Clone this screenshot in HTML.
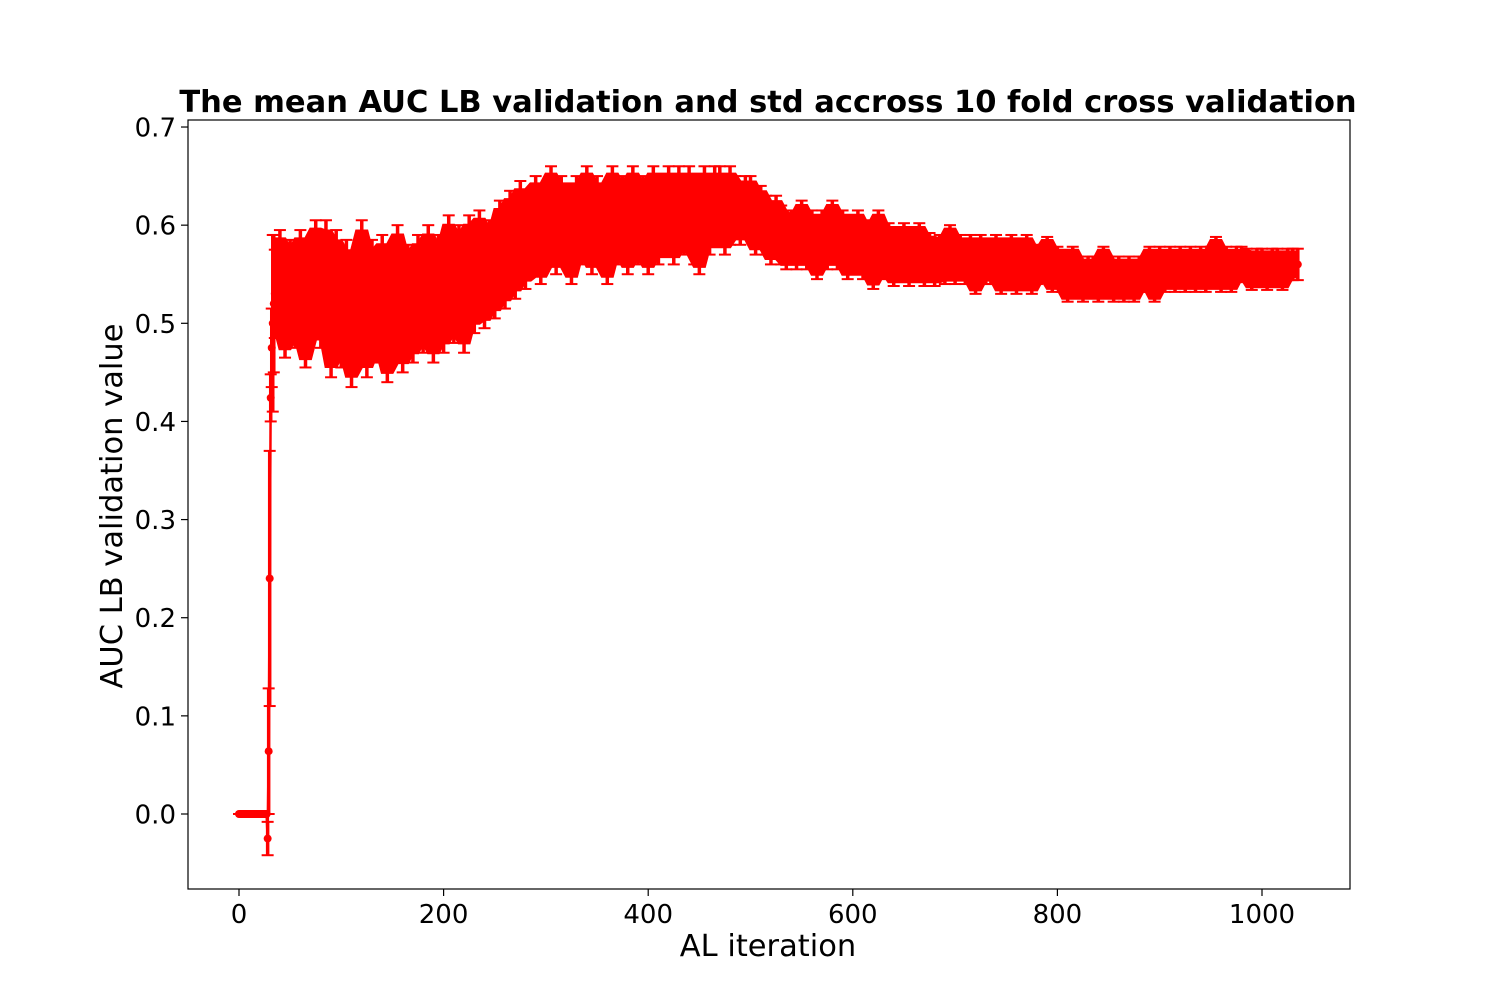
<!DOCTYPE html>
<html><head><meta charset="utf-8"><style>
html,body{margin:0;padding:0;background:#fff;}
svg text{font-family:"DejaVu Sans","Liberation Sans",sans-serif;fill:#000;}
</style></head><body>
<svg id="chart" width="1500" height="1000" xmlns="http://www.w3.org/2000/svg">
<rect width="1500" height="1000" fill="#fff"/>
<text x="768" y="112" font-size="30.5" font-weight="bold" text-anchor="middle">The mean AUC LB validation and std accross 10 fold cross validation</text>
<g id="plot"></g>
<rect x="188" y="120" width="1162" height="769" fill="none" stroke="#000" stroke-width="1.2"/>
<g id="xt"></g>
<g id="yt"></g>
<text x="768" y="956" font-size="30.5" text-anchor="middle">AL iteration</text>
<text transform="translate(122,506) rotate(-90)" font-size="30.5" text-anchor="middle">AUC LB validation value</text>
</svg>
<script>
const xTicks=[0,200,400,600,800,1000];
const yTicks=[0.0,0.1,0.2,0.3,0.4,0.5,0.6,0.7];
const yTickLabels=["0.0","0.1","0.2","0.3","0.4","0.5","0.6","0.7"];
const earlyX=[28,29,30,31,32,33,34];
const earlyMean=[-0.025,0.064,0.24,0.424,0.475,0.50,0.52];
const earlyStd=[0.017,0.064,0.13,0.024,0.04,0.09,0.07];
const zeroCount=28;
const mainStart=35, mainStep=5;
const mainMean=[
0.53,0.55,0.51,0.54,0.52,0.55,0.50,0.54,0.56,0.52,
0.55,0.50,0.54,0.51,0.53,0.49,0.52,0.55,0.50,0.53,
0.51,0.54,0.49,0.52,0.55,0.50,0.53,0.51,0.54,0.52,
0.55,0.51,0.54,0.52,0.56,0.53,0.55,0.52,0.56,0.54,
0.57,0.54,0.56,0.55,0.58,0.56,0.59,0.57,0.60,0.58,
0.59,0.61,0.58,0.60,0.62,0.59,0.61,0.60,0.58,0.61,
0.60,0.62,0.59,0.61,0.60,0.58,0.62,0.60,0.61,0.59,
0.62,0.60,0.61,0.59,0.62,0.60,0.61,0.62,0.60,0.62,
0.61,0.62,0.60,0.59,0.62,0.61,0.62,0.62,0.61,0.62,
0.62,0.61,0.62,0.62,0.60,0.61,0.60,0.59,0.60,0.59,
0.58,0.59,0.58,0.60,0.58,0.59,0.57,0.59,0.58,0.60,
0.58,0.59,0.57,0.58,0.59,0.57,0.58,0.56,0.59,0.57,
0.58,0.56,0.57,0.58,0.56,0.57,0.58,0.56,0.57,0.56,
0.57,0.56,0.58,0.56,0.57,0.56,0.57,0.55,0.57,0.56,
0.56,0.57,0.55,0.56,0.57,0.55,0.56,0.57,0.55,0.56,
0.56,0.57,0.55,0.56,0.55,0.54,0.56,0.55,0.54,0.55,
0.55,0.54,0.56,0.55,0.54,0.55,0.54,0.55,0.54,0.55,
0.55,0.56,0.54,0.56,0.55,0.56,0.55,0.56,0.55,0.56,
0.55,0.56,0.55,0.56,0.57,0.55,0.56,0.55,0.56,0.56,
0.56,0.55,0.56,0.56,0.55,0.56,0.56,0.55,0.56,0.56,
0.56];
const stdByBlock=[0.045,0.055,0.05,0.05,0.045,0.04,0.04,0.04,0.04,0.03,0.025,0.025,0.022,0.02,0.02,0.018,0.018,0.018,0.018,0.016,0.016];

const X0=239,XS=1.023,Y0=814,YS=981.4;
function sx(v){return X0+v*XS;}
function sy(v){return Y0-v*YS;}
const NS="http://www.w3.org/2000/svg";
function mk(t,a,p){const e=document.createElementNS(NS,t);for(const k in a)e.setAttribute(k,a[k]);p.appendChild(e);return e;}
const plot=document.getElementById('plot');
const xs=[],ms=[],ss=[];
for(let i=0;i<zeroCount;i++){xs.push(i);ms.push(0);ss.push(0);}
earlyX.forEach((x,i)=>{xs.push(x);ms.push(earlyMean[i]);ss.push(earlyStd[i]);});
mainMean.forEach((m,i)=>{xs.push(mainStart+i*mainStep);ms.push(m);ss.push(stdByBlock[Math.floor(i/10)]);});
// envelope band: rolling max/min of the error-bar ends over neighbours
const bStart=zeroCount+earlyX.length;
const N=xs.length;
function env(i,sgn){let best=null;for(let j=Math.max(bStart,i-1);j<=Math.min(N-1,i+1);j++){const v=ms[j]+sgn*ss[j]*0.8;if(best===null||(sgn>0?v>best:v<best))best=v;}return best;}
let up='',lo='';
for(let i=bStart;i<N;i++){up+=(i===bStart?'M':'L')+sx(xs[i]).toFixed(1)+','+sy(env(i,1)).toFixed(1);}
for(let i=N-1;i>=bStart;i--){lo+='L'+sx(xs[i]).toFixed(1)+','+sy(env(i,-1)).toFixed(1);}
const band=mk('path',{d:up+lo+'Z',fill:'#f00',stroke:'#f00','stroke-width':3},plot);


let d='';
xs.forEach((x,i)=>{d+=(i?'L':'M')+sx(x).toFixed(1)+','+sy(ms[i]).toFixed(1);});
const line=mk('path',{d:d,fill:'none',stroke:'#f00','stroke-width':2.5},plot);


xs.forEach((x,i)=>{
  const g=mk('g',{},plot);
  
  
  const px=sx(x),t=sy(ms[i]+ss[i]),b=sy(ms[i]-ss[i]);
  mk('line',{x1:px,x2:px,y1:t,y2:b,stroke:'#f00','stroke-width':3.5},g);
  mk('line',{x1:px-6,x2:px+6,y1:t,y2:t,stroke:'#f00','stroke-width':2},g);
  mk('line',{x1:px-6,x2:px+6,y1:b,y2:b,stroke:'#f00','stroke-width':2},g);
  mk('circle',{cx:px,cy:sy(ms[i]),r:4,fill:'#f00'},g);
});
const xt=document.getElementById('xt');
xTicks.forEach(v=>{
  const l=mk('line',{x1:sx(v),x2:sx(v),y1:889,y2:896,stroke:'#000','stroke-width':1.2},xt);
  
  
  const t=mk('text',{x:sx(v),y:923,'font-size':26,'text-anchor':'middle'},xt);
  
  
  t.textContent=v;
});
const yt=document.getElementById('yt');
yTicks.forEach((v,i)=>{
  const l=mk('line',{x1:181,x2:188,y1:sy(v),y2:sy(v),stroke:'#000','stroke-width':1.2},yt);
  
  
  const t=mk('text',{x:176,y:sy(v)+9.5,'font-size':26,'text-anchor':'end'},yt);
  
  
  t.textContent=yTickLabels[i];
});
</script>
</body></html>
